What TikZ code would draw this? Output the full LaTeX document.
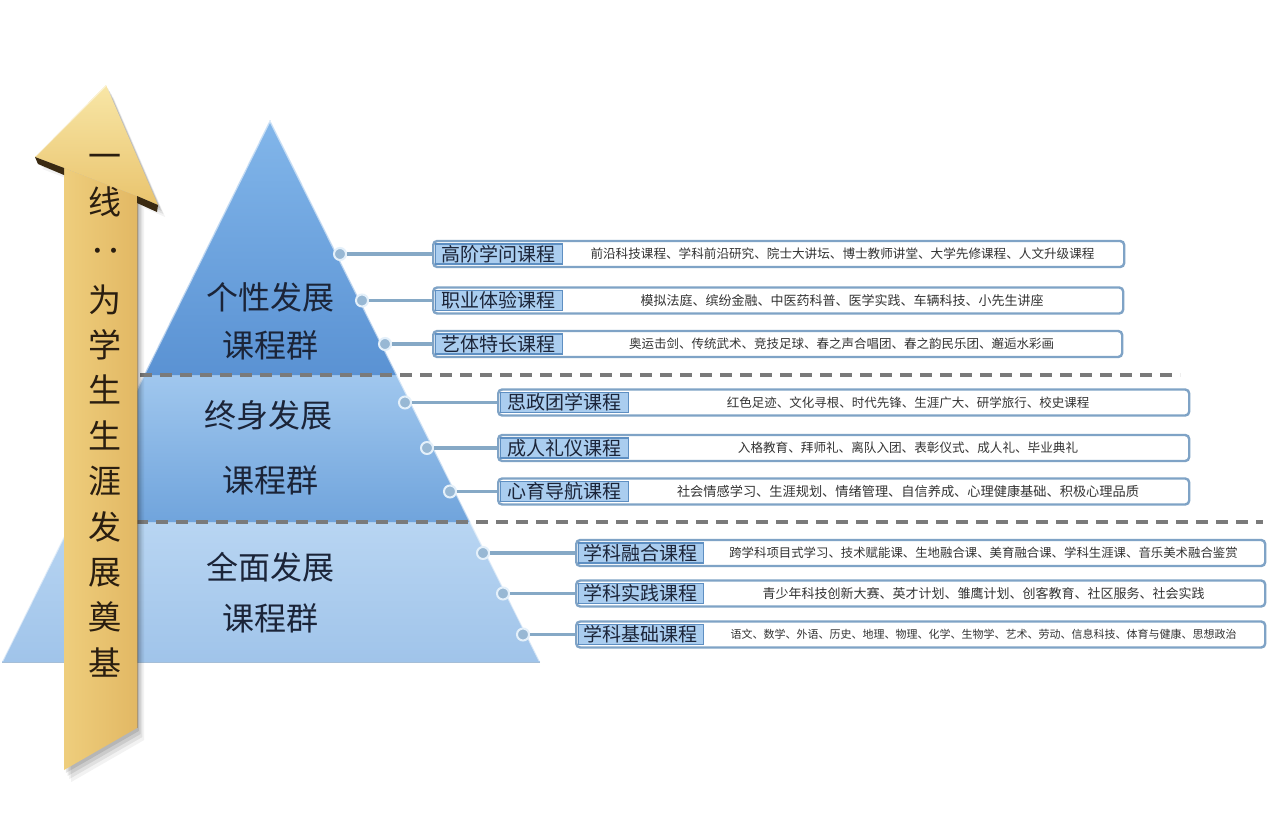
\documentclass[tikz,border=0pt]{standalone}
\usepackage{fontspec}
\setmainfont{Noto Sans CJK SC}
\usetikzlibrary{calc}
\definecolor{navy}{HTML}{1B2438}
\definecolor{desctext}{HTML}{333333}
\definecolor{boxline}{HTML}{7FA3C6}
\definecolor{labline}{HTML}{5E8FC2}
\definecolor{labfill}{HTML}{AACDEF}
\definecolor{dotfill}{HTML}{98B8D4}
\definecolor{dotring}{HTML}{E4F0FA}
\definecolor{connline}{HTML}{86A9C6}
\definecolor{dashgray}{HTML}{7A7A7A}
\definecolor{pyrTopA}{HTML}{82B6EA}
\definecolor{pyrTopB}{HTML}{5A92D3}
\definecolor{pyrMidA}{HTML}{A0C7EE}
\definecolor{pyrMidB}{HTML}{70A4DC}
\definecolor{pyrBotA}{HTML}{B8D5F2}
\definecolor{pyrBotB}{HTML}{A0C4EA}
\definecolor{gA}{HTML}{FFF8C4}
\definecolor{gB}{HTML}{F6E08E}
\definecolor{gC}{HTML}{EFCF7E}
\definecolor{gD}{HTML}{E2B864}
\definecolor{gE}{HTML}{C8974A}
\definecolor{headA}{HTML}{F8E6A6}
\definecolor{headB}{HTML}{E9C46E}
\definecolor{wingdark}{HTML}{3A2A12}
\definecolor{arrowtxt}{HTML}{2A1E10}
\pgfdeclarehorizontalshading{goldshaft}{100bp}{color(0bp)=(gA); color(8bp)=(gB); color(22bp)=(gC); color(75bp)=(gD); color(100bp)=(gE)}
\newcommand\crow[9]{%
  \pgfmathsetmacro\crowbw{#6-#4}%
  \pgfmathsetmacro\crowlw{#5-#4-3}%
  \pgfmathsetmacro\crowdx{(#5+#6)/2}%
  \node[dotnode] (d#1) at (#2,#3) {};
  \node[rowbox,minimum width=\crowbw pt,anchor=west] (b#1) at (#4,#3) {};
  \node[labelbox,minimum width=\crowlw pt,anchor=west] (l#1) at (#4+2.5,#3) {#7};
  \node[desc,font=\fontsize{#9}{#9}\selectfont] (t#1) at (\crowdx,#3) {#8};
  \draw[conn] (d#1.east) -- (b#1.west);
}
\begin{document}
\begin{tikzpicture}[x=1pt,y=-1pt,
  rowbox/.style={draw=boxline,line width=2.4pt,rounded corners=4pt,fill=white,minimum height=26pt,inner sep=0pt},
  labelbox/.style={draw=labline,line width=1.1pt,fill=labfill,minimum height=20pt,inner sep=0pt,font=\fontsize{19}{19}\selectfont,text=navy},
  desc/.style={inner sep=0pt,text=desctext},
  dotnode/.style={circle,minimum size=12pt,inner sep=0pt,fill=dotfill,draw=dotring,line width=2pt},
  conn/.style={draw=connline,line width=3.4pt},
  dashline/.style={draw=dashgray,line width=3.2pt,dash pattern=on 12pt off 8pt},
  pyrtext/.style={font=\fontsize{32}{32}\selectfont,text=navy,inner sep=0pt},
  arrtext/.style={font=\fontsize{33}{45.4}\selectfont,text=arrowtxt,inner sep=0pt,align=center}
]
\useasboundingbox (0,0) rectangle (1267,838);
\fill[white] (0,0) rectangle (1267,838);

% ---------- pyramid ----------
\shade[top color=pyrBotA,bottom color=pyrBotB] (71.2,522) -- (470.3,522) -- (540,662) -- (2,662) -- cycle;
\shade[top color=pyrMidA,bottom color=pyrMidB] (143.9,375) -- (397,375) -- (470.3,522) -- (71.2,522) -- cycle;
\shade[top color=pyrTopA,bottom color=pyrTopB] (270,120) -- (397,375) -- (143.9,375) -- cycle;
\draw[white,opacity=0.55,line width=1.6pt] (270,121) -- (2.5,661);
\draw[white,opacity=0.55,line width=1.6pt] (270,121) -- (539.5,661);
\draw[boxline!70,line width=1pt] (2,662) -- (540,662);

% ---------- level dividers ----------
\draw[dashline] (140,375) -- (1180,375);
\draw[dashline] (136,522) -- (1263,522);

% ---------- pyramid texts ----------
\node[pyrtext] (p1a) at (270,297) {个性发展};
\node[pyrtext] (p1b) at (270,345) {课程群};
\node[pyrtext] (p2a) at (268,415) {终身发展};
\node[pyrtext] (p2b) at (270,480) {课程群};
\node[pyrtext] (p3a) at (270,567) {全面发展};
\node[pyrtext] (p3b) at (270,618) {课程群};

% ---------- course rows ----------
\crow{1}{340}{254}{432}{562}{1123}{高阶学问课程}{前沿科技课程、学科前沿研究、院士大讲坛、博士教师讲堂、大学先修课程、人文升级课程}{12.6}
\crow{2}{362}{300.5}{432}{562}{1122}{职业体验课程}{模拟法庭、缤纷金融、中医药科普、医学实践、车辆科技、小先生讲座}{13}
\crow{3}{385}{344}{432}{562}{1121}{艺体特长课程}{奥运击剑、传统武术、竞技足球、春之声合唱团、春之韵民乐团、邂逅水彩画}{12.5}
\crow{4}{405}{402.5}{497}{628}{1188}{思政团学课程}{红色足迹、文化寻根、时代先锋、生涯广大、研学旅行、校史课程}{12.5}
\crow{5}{427}{448}{497}{628}{1188}{成人礼仪课程}{入格教育、拜师礼、离队入团、表彰仪式、成人礼、毕业典礼}{12.6}
\crow{6}{450}{491.5}{497}{628}{1188}{心育导航课程}{社会情感学习、生涯规划、情绪管理、自信养成、心理健康基础、积极心理品质}{13.2}
\crow{7}{483}{553}{575}{703}{1264}{学科融合课程}{跨学科项目式学习、技术赋能课、生地融合课、美育融合课、学科生涯课、音乐美术融合鉴赏}{12.4}
\crow{8}{503}{593.5}{575}{703}{1264}{学科实践课程}{青少年科技创新大赛、英才计划、雏鹰计划、创客教育、社区服务、社会实践}{13}
\crow{9}{523}{634.5}{575}{703}{1264}{学科基础课程}{语文、数学、外语、历史、地理、物理、化学、生物学、艺术、劳动、信息科技、体育与健康、思想政治}{11}

% ---------- arrow shadow ----------
\foreach \s/\o in {12/0.05,9/0.07,6/0.09,3/0.1}{
  \fill[black,opacity=\o,shift={(\s*0.6,\s)}]
    (106,85) -- (158,205) -- (137,196) -- (137,728) -- (64,770) -- (64,168) -- (35,157) -- cycle;
}
% ---------- arrow ----------
\shade[shading=goldshaft] (64,168) -- (137,196) -- (137,728) -- (64,770) -- cycle;
\draw[gE!80!black,opacity=0.5,line width=1pt] (137,197) -- (137,728);
\shade[top color=headA,bottom color=headB] (106,85) -- (158,205) -- (137,196) -- (64,168) -- (35,157) -- cycle;
\draw[white,opacity=0.5,line width=0.8pt] (106,86) -- (36,156);
\fill[wingdark] (35,157) -- (64,168) -- (64,175) -- (38,164) -- cycle;
\fill[wingdark] (137,196) -- (158,205) -- (157,212) -- (137,203) -- cycle;

% ---------- arrow text ----------
\node[arrtext] (a1) at (105,185.7) {一\\线};
\node[arrtext,rotate=-90] (a2) at (106,259) {：};
\node[arrtext] (a3) at (105,480.7) {为\\学\\生\\生\\涯\\发\\展\\奠\\基};
\end{tikzpicture}
\end{document}
